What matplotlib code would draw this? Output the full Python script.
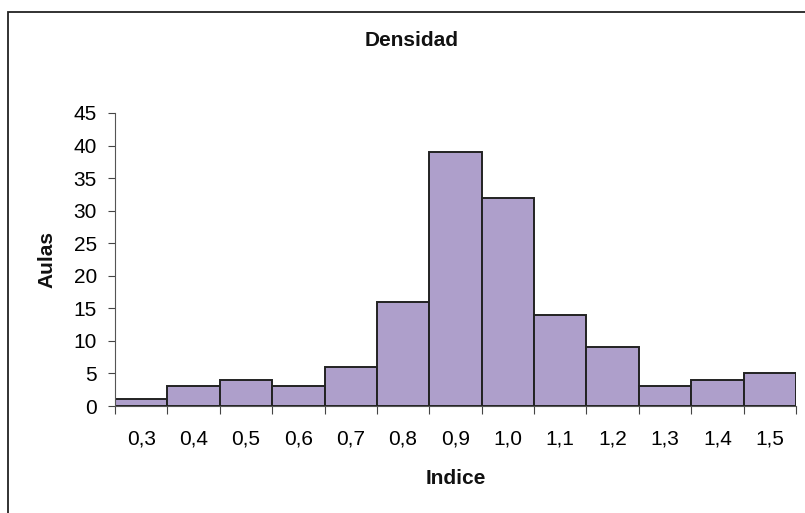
import matplotlib
matplotlib.use("Agg")
import matplotlib.pyplot as plt
from matplotlib.patches import Rectangle
import numpy as np

# Histogram counts per index class
categories = ["0,3", "0,4", "0,5", "0,6", "0,7", "0,8", "0,9",
              "1,0", "1,1", "1,2", "1,3", "1,4", "1,5"]
counts = [1, 3, 4, 3, 6, 16, 39, 32, 14, 9, 3, 4, 5]
y_ticks = [0, 5, 10, 15, 20, 25, 30, 35, 40, 45]

plt.rcParams["font.family"] = ["Liberation Sans", "DejaVu Sans"]

W, H = 805, 513
fig = plt.figure(figsize=(W / 100, H / 100), dpi=100)

# Outer chart-area frame (opens past the right and bottom edges)
fig.add_artist(Rectangle((8 / W, -0.05), 1.2, 1 - 12 / H + 0.05,
                         transform=fig.transFigure, fill=False,
                         edgecolor="#222222", linewidth=1.3))

left, right, top, bottom = 115, 796, 113, 406
ax = fig.add_axes([left / W, 1 - bottom / H, (right - left) / W, (bottom - top) / H])

x = np.arange(len(counts))
ax.bar(x, counts, width=1.0, color="#AE9FCB", edgecolor="#222222", linewidth=1.4)

ax.set_xlim(-0.5, len(counts) - 0.5)
ax.set_ylim(0, 45)
ax.set_yticks(y_ticks)
ax.set_yticklabels([str(v) for v in y_ticks])

# Category labels centred on bars, ticks at bar edges
ax.set_xticks(x)
ax.set_xticklabels(categories)
ax.set_xticks(np.arange(len(counts) + 1) - 0.5, minor=True)
ax.tick_params(axis="x", which="major", length=0, pad=17, labelsize=15)
ax.tick_params(axis="x", which="minor", length=6, width=0.8, color="#444444")
ax.tick_params(axis="y", length=5, width=0.8, color="#444444", pad=8, labelsize=15)

for side in ("top", "right"):
    ax.spines[side].set_visible(False)
ax.spines["left"].set_color("#555555")
ax.spines["left"].set_linewidth(0.8)
ax.spines["bottom"].set_color("#555555")
ax.spines["bottom"].set_linewidth(0.8)

fig.text(411.5 / W, 1 - 40 / H, "Densidad", ha="center", va="center",
         fontsize=15, fontweight="bold", color="#111111")
fig.text(47 / W, 1 - 260 / H, "Aulas", ha="center", va="center",
         rotation=90, fontsize=15, fontweight="bold", color="#111111")
fig.text(455.5 / W, 1 - 478 / H, "Indice", ha="center", va="center",
         fontsize=15, fontweight="bold", color="#111111")

fig.savefig("out.png", dpi=100)
